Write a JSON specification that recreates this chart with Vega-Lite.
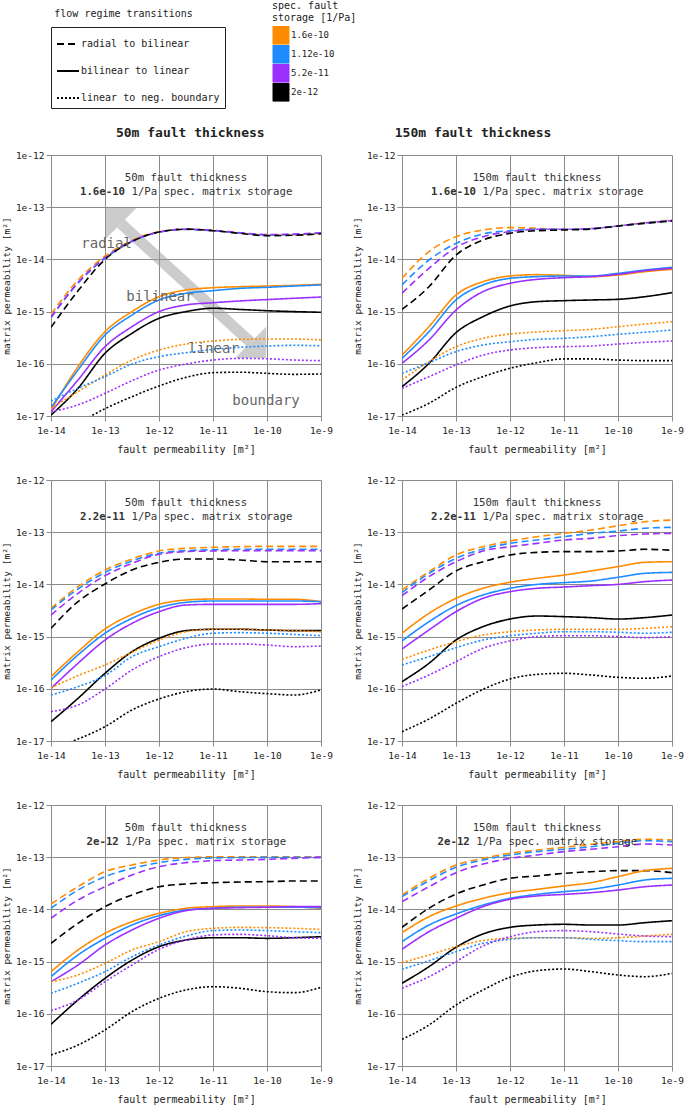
{
"$schema": "https://vega.github.io/schema/vega-lite/v6.json",
"padding": {"top": 1, "left": 1, "right": 5, "bottom": 3},
"config": {
  "font": "DejaVu Sans Mono",
  "view": {"stroke": null},
  "axis": {"gridColor": "#8a8a8a", "domainColor": "#8a8a8a", "tickColor": "#8a8a8a", "labelFont": "DejaVu Sans Mono", "titleFont": "DejaVu Sans Mono", "labelFontSize": 9.5, "titleFontSize": 10, "titleFontWeight": "normal", "labelColor": "#222", "titleColor": "#222", "labelFlush": false, "labelOverlap": false},
  "legend": {"labelFont": "DejaVu Sans Mono", "titleFont": "DejaVu Sans Mono"},
  "text": {"font": "DejaVu Sans Mono"}
},
"data": {"values": [
{"p":"A","a":"50m fault thickness","b":"1.6e-10","n":"1/Pa spec. matrix storage"},
{"p":"B","a":"150m fault thickness","b":"1.6e-10","n":"1/Pa spec. matrix storage"},
{"p":"C","a":"50m fault thickness","b":"2.2e-11","n":"1/Pa spec. matrix storage"},
{"p":"D","a":"150m fault thickness","b":"2.2e-11","n":"1/Pa spec. matrix storage"},
{"p":"E","a":"50m fault thickness","b":"2e-12","n":"1/Pa spec. matrix storage"},
{"p":"F","a":"150m fault thickness","b":"2e-12","n":"1/Pa spec. matrix storage"},
{"p":"A","w":"radial","x":3.64e-14,"y":1.97e-14},
{"p":"A","w":"bilinear","x":2.48e-13,"y":1.91e-15},
{"p":"A","w":"linear","x":3.49e-12,"y":1.92e-16},
{"p":"A","w":"boundary","x":2.28e-11,"y":1.94e-17},

{"p":"A","s":"O","t":"D","x":1e-14,"y":8.9e-16},{"p":"A","s":"O","t":"D","x":3.16e-14,"y":4e-15},{"p":"A","s":"O","t":"D","x":1e-13,"y":1.15e-14},{"p":"A","s":"O","t":"D","x":3.16e-13,"y":2.3e-14},{"p":"A","s":"O","t":"D","x":1e-12,"y":3.4e-14},{"p":"A","s":"O","t":"D","x":3.16e-12,"y":3.75e-14},{"p":"A","s":"O","t":"D","x":1e-11,"y":3.55e-14},{"p":"A","s":"O","t":"D","x":3.16e-11,"y":3.2e-14},{"p":"A","s":"O","t":"D","x":1e-10,"y":2.95e-14},{"p":"A","s":"O","t":"D","x":3.16e-10,"y":2.95e-14},{"p":"A","s":"O","t":"D","x":1e-9,"y":3.15e-14},
{"p":"A","s":"B","t":"D","x":1e-14,"y":7.6e-16},{"p":"A","s":"B","t":"D","x":3.16e-14,"y":3.5e-15},{"p":"A","s":"B","t":"D","x":1e-13,"y":1.05e-14},{"p":"A","s":"B","t":"D","x":3.16e-13,"y":2.2e-14},{"p":"A","s":"B","t":"D","x":1e-12,"y":3.3e-14},{"p":"A","s":"B","t":"D","x":3.16e-12,"y":3.75e-14},{"p":"A","s":"B","t":"D","x":1e-11,"y":3.55e-14},{"p":"A","s":"B","t":"D","x":3.16e-11,"y":3.2e-14},{"p":"A","s":"B","t":"D","x":1e-10,"y":2.95e-14},{"p":"A","s":"B","t":"D","x":3.16e-10,"y":3e-14},{"p":"A","s":"B","t":"D","x":1e-9,"y":3.2e-14},
{"p":"A","s":"P","t":"D","x":1e-14,"y":7.8e-16},{"p":"A","s":"P","t":"D","x":3.16e-14,"y":3.6e-15},{"p":"A","s":"P","t":"D","x":1e-13,"y":1.08e-14},{"p":"A","s":"P","t":"D","x":3.16e-13,"y":2.25e-14},{"p":"A","s":"P","t":"D","x":1e-12,"y":3.35e-14},{"p":"A","s":"P","t":"D","x":3.16e-12,"y":3.8e-14},{"p":"A","s":"P","t":"D","x":1e-11,"y":3.6e-14},{"p":"A","s":"P","t":"D","x":3.16e-11,"y":3.25e-14},{"p":"A","s":"P","t":"D","x":1e-10,"y":3e-14},{"p":"A","s":"P","t":"D","x":3.16e-10,"y":3.05e-14},{"p":"A","s":"P","t":"D","x":1e-9,"y":3.25e-14},
{"p":"A","s":"K","t":"D","x":1e-14,"y":5e-16},{"p":"A","s":"K","t":"D","x":3.16e-14,"y":2.5e-15},{"p":"A","s":"K","t":"D","x":1e-13,"y":1e-14},{"p":"A","s":"K","t":"D","x":3.16e-13,"y":2.2e-14},{"p":"A","s":"K","t":"D","x":1e-12,"y":3.35e-14},{"p":"A","s":"K","t":"D","x":3.16e-12,"y":3.8e-14},{"p":"A","s":"K","t":"D","x":1e-11,"y":3.55e-14},{"p":"A","s":"K","t":"D","x":3.16e-11,"y":3.15e-14},{"p":"A","s":"K","t":"D","x":1e-10,"y":2.85e-14},{"p":"A","s":"K","t":"D","x":3.16e-10,"y":2.9e-14},{"p":"A","s":"K","t":"D","x":1e-9,"y":3.1e-14},
{"p":"A","s":"O","t":"S","x":1e-14,"y":1.3e-17},{"p":"A","s":"O","t":"S","x":3.16e-14,"y":8.8e-17},{"p":"A","s":"O","t":"S","x":1e-13,"y":4.13e-16},{"p":"A","s":"O","t":"S","x":3.16e-13,"y":1e-15},{"p":"A","s":"O","t":"S","x":1e-12,"y":1.93e-15},{"p":"A","s":"O","t":"S","x":3.16e-12,"y":2.59e-15},{"p":"A","s":"O","t":"S","x":1e-11,"y":2.87e-15},{"p":"A","s":"O","t":"S","x":3.16e-11,"y":3e-15},{"p":"A","s":"O","t":"S","x":1e-10,"y":3.09e-15},{"p":"A","s":"O","t":"S","x":3.16e-10,"y":3.18e-15},{"p":"A","s":"O","t":"S","x":1e-9,"y":3.33e-15},
{"p":"A","s":"B","t":"S","x":1e-14,"y":1.45e-17},{"p":"A","s":"B","t":"S","x":3.16e-14,"y":7.6e-17},{"p":"A","s":"B","t":"S","x":1e-13,"y":3.56e-16},{"p":"A","s":"B","t":"S","x":3.16e-13,"y":8.6e-16},{"p":"A","s":"B","t":"S","x":1e-12,"y":1.67e-15},{"p":"A","s":"B","t":"S","x":3.16e-12,"y":2.24e-15},{"p":"A","s":"B","t":"S","x":1e-11,"y":2.52e-15},{"p":"A","s":"B","t":"S","x":3.16e-11,"y":2.79e-15},{"p":"A","s":"B","t":"S","x":1e-10,"y":2.92e-15},{"p":"A","s":"B","t":"S","x":3.16e-10,"y":3.09e-15},{"p":"A","s":"B","t":"S","x":1e-9,"y":3.24e-15},
{"p":"A","s":"P","t":"S","x":1e-14,"y":1.21e-17},{"p":"A","s":"P","t":"S","x":3.16e-14,"y":4.9e-17},{"p":"A","s":"P","t":"S","x":1e-13,"y":2.13e-16},{"p":"A","s":"P","t":"S","x":3.16e-13,"y":5.14e-16},{"p":"A","s":"P","t":"S","x":1e-12,"y":1e-15},{"p":"A","s":"P","t":"S","x":3.16e-12,"y":1.34e-15},{"p":"A","s":"P","t":"S","x":1e-11,"y":1.48e-15},{"p":"A","s":"P","t":"S","x":3.16e-11,"y":1.6e-15},{"p":"A","s":"P","t":"S","x":1e-10,"y":1.7e-15},{"p":"A","s":"P","t":"S","x":3.16e-10,"y":1.8e-15},{"p":"A","s":"P","t":"S","x":1e-9,"y":1.9e-15},
{"p":"A","s":"K","t":"S","x":1e-14,"y":1.04e-17},{"p":"A","s":"K","t":"S","x":3.16e-14,"y":3.39e-17},{"p":"A","s":"K","t":"S","x":1e-13,"y":1.59e-16},{"p":"A","s":"K","t":"S","x":3.16e-13,"y":3.84e-16},{"p":"A","s":"K","t":"S","x":1e-12,"y":7.43e-16},{"p":"A","s":"K","t":"S","x":3.16e-12,"y":1e-15},{"p":"A","s":"K","t":"S","x":1e-11,"y":1.16e-15},{"p":"A","s":"K","t":"S","x":3.16e-11,"y":1.1e-15},{"p":"A","s":"K","t":"S","x":1e-10,"y":1.04e-15},{"p":"A","s":"K","t":"S","x":3.16e-10,"y":1e-15},{"p":"A","s":"K","t":"S","x":1e-9,"y":9.7e-16},
{"p":"A","s":"O","t":"T","x":1e-14,"y":1.4e-17},{"p":"A","s":"O","t":"T","x":3.16e-14,"y":2.92e-17},{"p":"A","s":"O","t":"T","x":1e-13,"y":6.1e-17},{"p":"A","s":"O","t":"T","x":3.16e-13,"y":1.18e-16},{"p":"A","s":"O","t":"T","x":1e-12,"y":1.84e-16},{"p":"A","s":"O","t":"T","x":3.16e-12,"y":2.39e-16},{"p":"A","s":"O","t":"T","x":1e-11,"y":2.73e-16},{"p":"A","s":"O","t":"T","x":3.16e-11,"y":2.94e-16},{"p":"A","s":"O","t":"T","x":1e-10,"y":2.98e-16},{"p":"A","s":"O","t":"T","x":3.16e-10,"y":2.98e-16},{"p":"A","s":"O","t":"T","x":1e-9,"y":2.86e-16},
{"p":"A","s":"B","t":"T","x":1e-14,"y":1.94e-17},{"p":"A","s":"B","t":"T","x":3.16e-14,"y":3.39e-17},{"p":"A","s":"B","t":"T","x":1e-13,"y":5.67e-17},{"p":"A","s":"B","t":"T","x":3.16e-13,"y":9.9e-17},{"p":"A","s":"B","t":"T","x":1e-12,"y":1.37e-16},{"p":"A","s":"B","t":"T","x":3.16e-12,"y":1.63e-16},{"p":"A","s":"B","t":"T","x":1e-11,"y":1.89e-16},{"p":"A","s":"B","t":"T","x":3.16e-11,"y":2.07e-16},{"p":"A","s":"B","t":"T","x":1e-10,"y":2.19e-16},{"p":"A","s":"B","t":"T","x":3.16e-10,"y":2.26e-16},{"p":"A","s":"B","t":"T","x":1e-9,"y":2.22e-16},
{"p":"A","s":"P","t":"T","x":1e-14,"y":1.21e-17},{"p":"A","s":"P","t":"T","x":3.16e-14,"y":1.63e-17},{"p":"A","s":"P","t":"T","x":1e-13,"y":2.72e-17},{"p":"A","s":"P","t":"T","x":3.16e-13,"y":4.75e-17},{"p":"A","s":"P","t":"T","x":1e-12,"y":7.6e-17},{"p":"A","s":"P","t":"T","x":3.16e-12,"y":9.9e-17},{"p":"A","s":"P","t":"T","x":1e-11,"y":1.18e-16},{"p":"A","s":"P","t":"T","x":3.16e-11,"y":1.27e-16},{"p":"A","s":"P","t":"T","x":1e-10,"y":1.25e-16},{"p":"A","s":"P","t":"T","x":3.16e-10,"y":1.18e-16},{"p":"A","s":"P","t":"T","x":1e-9,"y":1.15e-16},
{"p":"A","s":"K","t":"T","x":1e-14,"y":3.47e-18},{"p":"A","s":"K","t":"T","x":3.16e-14,"y":7.2e-18},{"p":"A","s":"K","t":"T","x":1e-13,"y":1.38e-17},{"p":"A","s":"K","t":"T","x":3.16e-13,"y":2.34e-17},{"p":"A","s":"K","t":"T","x":1e-12,"y":3.76e-17},{"p":"A","s":"K","t":"T","x":3.16e-12,"y":5.5e-17},{"p":"A","s":"K","t":"T","x":1e-11,"y":6.76e-17},{"p":"A","s":"K","t":"T","x":3.16e-11,"y":6.9e-17},{"p":"A","s":"K","t":"T","x":1e-10,"y":6.56e-17},{"p":"A","s":"K","t":"T","x":3.16e-10,"y":6.28e-17},{"p":"A","s":"K","t":"T","x":1e-9,"y":6.4e-17},

{"p":"B","s":"O","t":"D","x":1e-14,"y":4.34e-15},{"p":"B","s":"O","t":"D","x":3.16e-14,"y":1.41e-14},{"p":"B","s":"O","t":"D","x":1e-13,"y":2.72e-14},{"p":"B","s":"O","t":"D","x":3.16e-13,"y":3.66e-14},{"p":"B","s":"O","t":"D","x":1e-12,"y":4.06e-14},{"p":"B","s":"O","t":"D","x":3.16e-12,"y":3.94e-14},{"p":"B","s":"O","t":"D","x":1e-11,"y":3.77e-14},{"p":"B","s":"O","t":"D","x":3.16e-11,"y":3.88e-14},{"p":"B","s":"O","t":"D","x":1e-10,"y":4.37e-14},{"p":"B","s":"O","t":"D","x":3.16e-10,"y":5.06e-14},{"p":"B","s":"O","t":"D","x":1e-9,"y":5.69e-14},
{"p":"B","s":"B","t":"D","x":1e-14,"y":3.24e-15},{"p":"B","s":"B","t":"D","x":3.16e-14,"y":9.74e-15},{"p":"B","s":"B","t":"D","x":1e-13,"y":2.03e-14},{"p":"B","s":"B","t":"D","x":3.16e-13,"y":3.07e-14},{"p":"B","s":"B","t":"D","x":1e-12,"y":3.55e-14},{"p":"B","s":"B","t":"D","x":3.16e-12,"y":3.77e-14},{"p":"B","s":"B","t":"D","x":1e-11,"y":3.77e-14},{"p":"B","s":"B","t":"D","x":3.16e-11,"y":3.88e-14},{"p":"B","s":"B","t":"D","x":1e-10,"y":4.37e-14},{"p":"B","s":"B","t":"D","x":3.16e-10,"y":4.98e-14},{"p":"B","s":"B","t":"D","x":1e-9,"y":5.52e-14},
{"p":"B","s":"P","t":"D","x":1e-14,"y":2.24e-15},{"p":"B","s":"P","t":"D","x":3.16e-14,"y":6.75e-15},{"p":"B","s":"P","t":"D","x":1e-13,"y":1.7e-14},{"p":"B","s":"P","t":"D","x":3.16e-13,"y":2.72e-14},{"p":"B","s":"P","t":"D","x":1e-12,"y":3.4e-14},{"p":"B","s":"P","t":"D","x":3.16e-12,"y":3.77e-14},{"p":"B","s":"P","t":"D","x":1e-11,"y":3.77e-14},{"p":"B","s":"P","t":"D","x":3.16e-11,"y":3.88e-14},{"p":"B","s":"P","t":"D","x":1e-10,"y":4.37e-14},{"p":"B","s":"P","t":"D","x":3.16e-10,"y":4.98e-14},{"p":"B","s":"P","t":"D","x":1e-9,"y":5.52e-14},
{"p":"B","s":"K","t":"D","x":1e-14,"y":1.1e-15},{"p":"B","s":"K","t":"D","x":3.16e-14,"y":3e-15},{"p":"B","s":"K","t":"D","x":1e-13,"y":1.21e-14},{"p":"B","s":"K","t":"D","x":3.16e-13,"y":2.35e-14},{"p":"B","s":"K","t":"D","x":1e-12,"y":3.16e-14},{"p":"B","s":"K","t":"D","x":3.16e-12,"y":3.55e-14},{"p":"B","s":"K","t":"D","x":1e-11,"y":3.66e-14},{"p":"B","s":"K","t":"D","x":3.16e-11,"y":3.82e-14},{"p":"B","s":"K","t":"D","x":1e-10,"y":4.37e-14},{"p":"B","s":"K","t":"D","x":3.16e-10,"y":4.91e-14},{"p":"B","s":"K","t":"D","x":1e-9,"y":5.44e-14},
{"p":"B","s":"O","t":"S","x":1e-14,"y":1.47e-16},{"p":"B","s":"O","t":"S","x":3.16e-14,"y":5.14e-16},{"p":"B","s":"O","t":"S","x":1e-13,"y":2.08e-15},{"p":"B","s":"O","t":"S","x":3.16e-13,"y":3.74e-15},{"p":"B","s":"O","t":"S","x":1e-12,"y":4.81e-15},{"p":"B","s":"O","t":"S","x":3.16e-12,"y":5.1e-15},{"p":"B","s":"O","t":"S","x":1e-11,"y":4.95e-15},{"p":"B","s":"O","t":"S","x":3.16e-11,"y":4.67e-15},{"p":"B","s":"O","t":"S","x":1e-10,"y":5.02e-15},{"p":"B","s":"O","t":"S","x":3.16e-10,"y":5.82e-15},{"p":"B","s":"O","t":"S","x":1e-9,"y":6.45e-15},
{"p":"B","s":"B","t":"S","x":1e-14,"y":1.27e-16},{"p":"B","s":"B","t":"S","x":3.16e-14,"y":4.13e-16},{"p":"B","s":"B","t":"S","x":1e-13,"y":1.67e-15},{"p":"B","s":"B","t":"S","x":3.16e-13,"y":3.24e-15},{"p":"B","s":"B","t":"S","x":1e-12,"y":4.34e-15},{"p":"B","s":"B","t":"S","x":3.16e-12,"y":4.67e-15},{"p":"B","s":"B","t":"S","x":1e-11,"y":4.81e-15},{"p":"B","s":"B","t":"S","x":3.16e-11,"y":4.81e-15},{"p":"B","s":"B","t":"S","x":1e-10,"y":5.41e-15},{"p":"B","s":"B","t":"S","x":3.16e-10,"y":6.27e-15},{"p":"B","s":"B","t":"S","x":1e-9,"y":7.05e-15},
{"p":"B","s":"P","t":"S","x":1e-14,"y":1.02e-16},{"p":"B","s":"P","t":"S","x":3.16e-14,"y":2.86e-16},{"p":"B","s":"P","t":"S","x":1e-13,"y":1.07e-15},{"p":"B","s":"P","t":"S","x":3.16e-13,"y":2.41e-15},{"p":"B","s":"P","t":"S","x":1e-12,"y":3.48e-15},{"p":"B","s":"P","t":"S","x":3.16e-12,"y":4.15e-15},{"p":"B","s":"P","t":"S","x":1e-11,"y":4.47e-15},{"p":"B","s":"P","t":"S","x":3.16e-11,"y":4.67e-15},{"p":"B","s":"P","t":"S","x":1e-10,"y":5.18e-15},{"p":"B","s":"P","t":"S","x":3.16e-10,"y":6.08e-15},{"p":"B","s":"P","t":"S","x":1e-9,"y":6.75e-15},
{"p":"B","s":"K","t":"S","x":1e-14,"y":3.65e-17},{"p":"B","s":"K","t":"S","x":3.16e-14,"y":1.02e-16},{"p":"B","s":"K","t":"S","x":1e-13,"y":3.95e-16},{"p":"B","s":"K","t":"S","x":3.16e-13,"y":8e-16},{"p":"B","s":"K","t":"S","x":1e-12,"y":1.28e-15},{"p":"B","s":"K","t":"S","x":3.16e-12,"y":1.55e-15},{"p":"B","s":"K","t":"S","x":1e-11,"y":1.62e-15},{"p":"B","s":"K","t":"S","x":3.16e-11,"y":1.67e-15},{"p":"B","s":"K","t":"S","x":1e-10,"y":1.72e-15},{"p":"B","s":"K","t":"S","x":3.16e-10,"y":1.93e-15},{"p":"B","s":"K","t":"S","x":1e-9,"y":2.31e-15},
{"p":"B","s":"O","t":"T","x":1e-14,"y":4.9e-17},{"p":"B","s":"O","t":"T","x":3.16e-14,"y":1.1e-16},{"p":"B","s":"O","t":"T","x":1e-13,"y":2.13e-16},{"p":"B","s":"O","t":"T","x":3.16e-13,"y":3.08e-16},{"p":"B","s":"O","t":"T","x":1e-12,"y":3.72e-16},{"p":"B","s":"O","t":"T","x":3.16e-12,"y":4.07e-16},{"p":"B","s":"O","t":"T","x":1e-11,"y":4.32e-16},{"p":"B","s":"O","t":"T","x":3.16e-11,"y":4.57e-16},{"p":"B","s":"O","t":"T","x":1e-10,"y":5.14e-16},{"p":"B","s":"O","t":"T","x":3.16e-10,"y":5.78e-16},{"p":"B","s":"O","t":"T","x":1e-9,"y":6.41e-16},
{"p":"B","s":"B","t":"T","x":1e-14,"y":6.56e-17},{"p":"B","s":"B","t":"T","x":3.16e-14,"y":1.05e-16},{"p":"B","s":"B","t":"T","x":1e-13,"y":1.71e-16},{"p":"B","s":"B","t":"T","x":3.16e-13,"y":2.29e-16},{"p":"B","s":"B","t":"T","x":1e-12,"y":2.65e-16},{"p":"B","s":"B","t":"T","x":3.16e-12,"y":2.94e-16},{"p":"B","s":"B","t":"T","x":1e-11,"y":3.08e-16},{"p":"B","s":"B","t":"T","x":3.16e-11,"y":3.31e-16},{"p":"B","s":"B","t":"T","x":1e-10,"y":3.67e-16},{"p":"B","s":"B","t":"T","x":3.16e-10,"y":4.01e-16},{"p":"B","s":"B","t":"T","x":1e-9,"y":4.45e-16},
{"p":"B","s":"P","t":"T","x":1e-14,"y":3.39e-17},{"p":"B","s":"P","t":"T","x":3.16e-14,"y":5.67e-17},{"p":"B","s":"P","t":"T","x":1e-13,"y":9.5e-17},{"p":"B","s":"P","t":"T","x":3.16e-13,"y":1.47e-16},{"p":"B","s":"P","t":"T","x":1e-12,"y":1.84e-16},{"p":"B","s":"P","t":"T","x":3.16e-12,"y":2.04e-16},{"p":"B","s":"P","t":"T","x":1e-11,"y":2.13e-16},{"p":"B","s":"P","t":"T","x":3.16e-11,"y":2.19e-16},{"p":"B","s":"P","t":"T","x":1e-10,"y":2.39e-16},{"p":"B","s":"P","t":"T","x":3.16e-10,"y":2.58e-16},{"p":"B","s":"P","t":"T","x":1e-9,"y":2.73e-16},
{"p":"B","s":"K","t":"T","x":1e-14,"y":1.04e-17},{"p":"B","s":"K","t":"T","x":3.16e-14,"y":1.75e-17},{"p":"B","s":"K","t":"T","x":1e-13,"y":3.54e-17},{"p":"B","s":"K","t":"T","x":3.16e-13,"y":5.67e-17},{"p":"B","s":"K","t":"T","x":1e-12,"y":8.2e-17},{"p":"B","s":"K","t":"T","x":3.16e-12,"y":1.05e-16},{"p":"B","s":"K","t":"T","x":1e-11,"y":1.24e-16},{"p":"B","s":"K","t":"T","x":3.16e-11,"y":1.24e-16},{"p":"B","s":"K","t":"T","x":1e-10,"y":1.18e-16},{"p":"B","s":"K","t":"T","x":3.16e-10,"y":1.15e-16},{"p":"B","s":"K","t":"T","x":1e-9,"y":1.15e-16},

{"p":"C","s":"O","t":"D","x":1e-14,"y":3.48e-15},{"p":"C","s":"O","t":"D","x":3.16e-14,"y":9.05e-15},{"p":"C","s":"O","t":"D","x":1e-13,"y":1.89e-14},{"p":"C","s":"O","t":"D","x":3.16e-13,"y":3.07e-14},{"p":"C","s":"O","t":"D","x":1e-12,"y":4.37e-14},{"p":"C","s":"O","t":"D","x":3.16e-12,"y":4.91e-14},{"p":"C","s":"O","t":"D","x":1e-11,"y":5.13e-14},{"p":"C","s":"O","t":"D","x":3.16e-11,"y":5.28e-14},{"p":"C","s":"O","t":"D","x":1e-10,"y":5.36e-14},{"p":"C","s":"O","t":"D","x":3.16e-10,"y":5.36e-14},{"p":"C","s":"O","t":"D","x":1e-9,"y":5.36e-14},
{"p":"C","s":"B","t":"D","x":1e-14,"y":3.24e-15},{"p":"C","s":"B","t":"D","x":3.16e-14,"y":8.17e-15},{"p":"C","s":"B","t":"D","x":1e-13,"y":1.7e-14},{"p":"C","s":"B","t":"D","x":3.16e-13,"y":2.81e-14},{"p":"C","s":"B","t":"D","x":1e-12,"y":3.94e-14},{"p":"C","s":"B","t":"D","x":3.16e-12,"y":4.43e-14},{"p":"C","s":"B","t":"D","x":1e-11,"y":4.62e-14},{"p":"C","s":"B","t":"D","x":3.16e-11,"y":4.7e-14},{"p":"C","s":"B","t":"D","x":1e-10,"y":4.7e-14},{"p":"C","s":"B","t":"D","x":3.16e-10,"y":4.7e-14},{"p":"C","s":"B","t":"D","x":1e-9,"y":4.7e-14},
{"p":"C","s":"P","t":"D","x":1e-14,"y":2.59e-15},{"p":"C","s":"P","t":"D","x":3.16e-14,"y":6.75e-15},{"p":"C","s":"P","t":"D","x":1e-13,"y":1.47e-14},{"p":"C","s":"P","t":"D","x":3.16e-13,"y":2.53e-14},{"p":"C","s":"P","t":"D","x":1e-12,"y":3.77e-14},{"p":"C","s":"P","t":"D","x":3.16e-12,"y":4.24e-14},{"p":"C","s":"P","t":"D","x":1e-11,"y":4.37e-14},{"p":"C","s":"P","t":"D","x":3.16e-11,"y":4.43e-14},{"p":"C","s":"P","t":"D","x":1e-10,"y":4.43e-14},{"p":"C","s":"P","t":"D","x":3.16e-10,"y":4.43e-14},{"p":"C","s":"P","t":"D","x":1e-9,"y":4.43e-14},
{"p":"C","s":"K","t":"D","x":1e-14,"y":1.44e-15},{"p":"C","s":"K","t":"D","x":3.16e-14,"y":4.67e-15},{"p":"C","s":"K","t":"D","x":1e-13,"y":1.02e-14},{"p":"C","s":"K","t":"D","x":3.16e-13,"y":1.89e-14},{"p":"C","s":"K","t":"D","x":1e-12,"y":2.65e-14},{"p":"C","s":"K","t":"D","x":3.16e-12,"y":3.07e-14},{"p":"C","s":"K","t":"D","x":1e-11,"y":3.07e-14},{"p":"C","s":"K","t":"D","x":3.16e-11,"y":2.93e-14},{"p":"C","s":"K","t":"D","x":1e-10,"y":2.72e-14},{"p":"C","s":"K","t":"D","x":3.16e-10,"y":2.72e-14},{"p":"C","s":"K","t":"D","x":1e-9,"y":2.72e-14},
{"p":"C","s":"O","t":"S","x":1e-14,"y":1.71e-16},{"p":"C","s":"O","t":"S","x":3.16e-14,"y":5.14e-16},{"p":"C","s":"O","t":"S","x":1e-13,"y":1.4e-15},{"p":"C","s":"O","t":"S","x":3.16e-13,"y":2.67e-15},{"p":"C","s":"O","t":"S","x":1e-12,"y":4.15e-15},{"p":"C","s":"O","t":"S","x":3.16e-12,"y":5.02e-15},{"p":"C","s":"O","t":"S","x":1e-11,"y":5.25e-15},{"p":"C","s":"O","t":"S","x":3.16e-11,"y":5.25e-15},{"p":"C","s":"O","t":"S","x":1e-10,"y":5.18e-15},{"p":"C","s":"O","t":"S","x":3.16e-10,"y":5.18e-15},{"p":"C","s":"O","t":"S","x":1e-9,"y":4.67e-15},
{"p":"C","s":"B","t":"S","x":1e-14,"y":1.47e-16},{"p":"C","s":"B","t":"S","x":3.16e-14,"y":4.45e-16},{"p":"C","s":"B","t":"S","x":1e-13,"y":1.16e-15},{"p":"C","s":"B","t":"S","x":3.16e-13,"y":2.24e-15},{"p":"C","s":"B","t":"S","x":1e-12,"y":3.58e-15},{"p":"C","s":"B","t":"S","x":3.16e-12,"y":4.53e-15},{"p":"C","s":"B","t":"S","x":1e-11,"y":4.81e-15},{"p":"C","s":"B","t":"S","x":3.16e-11,"y":4.81e-15},{"p":"C","s":"B","t":"S","x":1e-10,"y":4.81e-15},{"p":"C","s":"B","t":"S","x":3.16e-10,"y":4.81e-15},{"p":"C","s":"B","t":"S","x":1e-9,"y":4.67e-15},
{"p":"C","s":"P","t":"S","x":1e-14,"y":1.02e-16},{"p":"C","s":"P","t":"S","x":3.16e-14,"y":3.08e-16},{"p":"C","s":"P","t":"S","x":1e-13,"y":8.6e-16},{"p":"C","s":"P","t":"S","x":3.16e-13,"y":1.79e-15},{"p":"C","s":"P","t":"S","x":1e-12,"y":3e-15},{"p":"C","s":"P","t":"S","x":3.16e-12,"y":4.03e-15},{"p":"C","s":"P","t":"S","x":1e-11,"y":4.15e-15},{"p":"C","s":"P","t":"S","x":3.16e-11,"y":4.15e-15},{"p":"C","s":"P","t":"S","x":1e-10,"y":4.15e-15},{"p":"C","s":"P","t":"S","x":3.16e-10,"y":4.15e-15},{"p":"C","s":"P","t":"S","x":1e-9,"y":4.28e-15},
{"p":"C","s":"K","t":"S","x":1e-14,"y":2.34e-17},{"p":"C","s":"K","t":"S","x":3.16e-14,"y":6.56e-17},{"p":"C","s":"K","t":"S","x":1e-13,"y":1.98e-16},{"p":"C","s":"K","t":"S","x":3.16e-13,"y":5.14e-16},{"p":"C","s":"K","t":"S","x":1e-12,"y":9.27e-16},{"p":"C","s":"K","t":"S","x":3.16e-12,"y":1.3e-15},{"p":"C","s":"K","t":"S","x":1e-11,"y":1.38e-15},{"p":"C","s":"K","t":"S","x":3.16e-11,"y":1.38e-15},{"p":"C","s":"K","t":"S","x":1e-10,"y":1.34e-15},{"p":"C","s":"K","t":"S","x":3.16e-10,"y":1.3e-15},{"p":"C","s":"K","t":"S","x":1e-9,"y":1.3e-15},
{"p":"C","s":"O","t":"T","x":1e-14,"y":1.05e-16},{"p":"C","s":"O","t":"T","x":3.16e-14,"y":1.79e-16},{"p":"C","s":"O","t":"T","x":1e-13,"y":2.86e-16},{"p":"C","s":"O","t":"T","x":3.16e-13,"y":5e-16},{"p":"C","s":"O","t":"T","x":1e-12,"y":8.6e-16},{"p":"C","s":"O","t":"T","x":3.16e-12,"y":1.24e-15},{"p":"C","s":"O","t":"T","x":1e-11,"y":1.38e-15},{"p":"C","s":"O","t":"T","x":3.16e-11,"y":1.38e-15},{"p":"C","s":"O","t":"T","x":1e-10,"y":1.34e-15},{"p":"C","s":"O","t":"T","x":3.16e-10,"y":1.3e-15},{"p":"C","s":"O","t":"T","x":1e-9,"y":1.24e-15},
{"p":"C","s":"B","t":"T","x":1e-14,"y":7.6e-17},{"p":"C","s":"B","t":"T","x":3.16e-14,"y":1.1e-16},{"p":"C","s":"B","t":"T","x":1e-13,"y":1.79e-16},{"p":"C","s":"B","t":"T","x":3.16e-13,"y":4.13e-16},{"p":"C","s":"B","t":"T","x":1e-12,"y":6.41e-16},{"p":"C","s":"B","t":"T","x":3.16e-12,"y":9.27e-16},{"p":"C","s":"B","t":"T","x":1e-11,"y":1.16e-15},{"p":"C","s":"B","t":"T","x":3.16e-11,"y":1.19e-15},{"p":"C","s":"B","t":"T","x":1e-10,"y":1.16e-15},{"p":"C","s":"B","t":"T","x":3.16e-10,"y":1.1e-15},{"p":"C","s":"B","t":"T","x":1e-9,"y":1.04e-15},
{"p":"C","s":"P","t":"T","x":1e-14,"y":3.65e-17},{"p":"C","s":"P","t":"T","x":3.16e-14,"y":4.9e-17},{"p":"C","s":"P","t":"T","x":1e-13,"y":9.9e-17},{"p":"C","s":"P","t":"T","x":3.16e-13,"y":2.29e-16},{"p":"C","s":"P","t":"T","x":1e-12,"y":4.13e-16},{"p":"C","s":"P","t":"T","x":3.16e-12,"y":6.14e-16},{"p":"C","s":"P","t":"T","x":1e-11,"y":7.21e-16},{"p":"C","s":"P","t":"T","x":3.16e-11,"y":7.21e-16},{"p":"C","s":"P","t":"T","x":1e-10,"y":6.9e-16},{"p":"C","s":"P","t":"T","x":3.16e-10,"y":6.41e-16},{"p":"C","s":"P","t":"T","x":1e-9,"y":6.6e-16},
{"p":"C","s":"K","t":"T","x":1e-14,"y":7.2e-18},{"p":"C","s":"K","t":"T","x":3.16e-14,"y":1.09e-17},{"p":"C","s":"K","t":"T","x":1e-13,"y":1.88e-17},{"p":"C","s":"K","t":"T","x":3.16e-13,"y":3.93e-17},{"p":"C","s":"K","t":"T","x":1e-12,"y":6.38e-17},{"p":"C","s":"K","t":"T","x":3.16e-12,"y":8.8e-17},{"p":"C","s":"K","t":"T","x":1e-11,"y":9.9e-17},{"p":"C","s":"K","t":"T","x":3.16e-11,"y":8.8e-17},{"p":"C","s":"K","t":"T","x":1e-10,"y":8.07e-17},{"p":"C","s":"K","t":"T","x":3.16e-10,"y":7.6e-17},{"p":"C","s":"K","t":"T","x":1e-9,"y":9.5e-17},

{"p":"D","s":"O","t":"D","x":1e-14,"y":7.81e-15},{"p":"D","s":"O","t":"D","x":3.16e-14,"y":1.75e-14},{"p":"D","s":"O","t":"D","x":1e-13,"y":3.66e-14},{"p":"D","s":"O","t":"D","x":3.16e-13,"y":5.28e-14},{"p":"D","s":"O","t":"D","x":1e-12,"y":6.78e-14},{"p":"D","s":"O","t":"D","x":3.16e-12,"y":8.2e-14},{"p":"D","s":"O","t":"D","x":1e-11,"y":9.5e-14},{"p":"D","s":"O","t":"D","x":3.16e-11,"y":1.1e-13},{"p":"D","s":"O","t":"D","x":1e-10,"y":1.33e-13},{"p":"D","s":"O","t":"D","x":3.16e-10,"y":1.59e-13},{"p":"D","s":"O","t":"D","x":1e-9,"y":1.71e-13},
{"p":"D","s":"B","t":"D","x":1e-14,"y":6.95e-15},{"p":"D","s":"B","t":"D","x":3.16e-14,"y":1.63e-14},{"p":"D","s":"B","t":"D","x":1e-13,"y":3.16e-14},{"p":"D","s":"B","t":"D","x":3.16e-13,"y":4.77e-14},{"p":"D","s":"B","t":"D","x":1e-12,"y":6.12e-14},{"p":"D","s":"B","t":"D","x":3.16e-12,"y":7.09e-14},{"p":"D","s":"B","t":"D","x":1e-11,"y":8.2e-14},{"p":"D","s":"B","t":"D","x":3.16e-11,"y":9.5e-14},{"p":"D","s":"B","t":"D","x":1e-10,"y":1.05e-13},{"p":"D","s":"B","t":"D","x":3.16e-10,"y":1.19e-13},{"p":"D","s":"B","t":"D","x":1e-9,"y":1.24e-13},
{"p":"D","s":"P","t":"D","x":1e-14,"y":6.08e-15},{"p":"D","s":"P","t":"D","x":3.16e-14,"y":1.41e-14},{"p":"D","s":"P","t":"D","x":1e-13,"y":2.72e-14},{"p":"D","s":"P","t":"D","x":3.16e-13,"y":4.37e-14},{"p":"D","s":"P","t":"D","x":1e-12,"y":5.28e-14},{"p":"D","s":"P","t":"D","x":3.16e-12,"y":6.12e-14},{"p":"D","s":"P","t":"D","x":1e-11,"y":7.09e-14},{"p":"D","s":"P","t":"D","x":3.16e-11,"y":7.63e-14},{"p":"D","s":"P","t":"D","x":1e-10,"y":8.59e-14},{"p":"D","s":"P","t":"D","x":3.16e-10,"y":9.24e-14},{"p":"D","s":"P","t":"D","x":1e-9,"y":9.5e-14},
{"p":"D","s":"K","t":"D","x":1e-14,"y":3.38e-15},{"p":"D","s":"K","t":"D","x":3.16e-14,"y":7.81e-15},{"p":"D","s":"K","t":"D","x":1e-13,"y":1.81e-14},{"p":"D","s":"K","t":"D","x":3.16e-13,"y":2.72e-14},{"p":"D","s":"K","t":"D","x":1e-12,"y":3.66e-14},{"p":"D","s":"K","t":"D","x":3.16e-12,"y":4.11e-14},{"p":"D","s":"K","t":"D","x":1e-11,"y":4.24e-14},{"p":"D","s":"K","t":"D","x":3.16e-11,"y":4.24e-14},{"p":"D","s":"K","t":"D","x":1e-10,"y":4.37e-14},{"p":"D","s":"K","t":"D","x":3.16e-10,"y":4.7e-14},{"p":"D","s":"K","t":"D","x":1e-9,"y":4.5e-14},
{"p":"D","s":"O","t":"S","x":1e-14,"y":1.16e-15},{"p":"D","s":"O","t":"S","x":3.16e-14,"y":2.79e-15},{"p":"D","s":"O","t":"S","x":1e-13,"y":5.41e-15},{"p":"D","s":"O","t":"S","x":3.16e-13,"y":8.41e-15},{"p":"D","s":"O","t":"S","x":1e-12,"y":1.1e-14},{"p":"D","s":"O","t":"S","x":3.16e-12,"y":1.31e-14},{"p":"D","s":"O","t":"S","x":1e-11,"y":1.51e-14},{"p":"D","s":"O","t":"S","x":3.16e-11,"y":1.81e-14},{"p":"D","s":"O","t":"S","x":1e-10,"y":2.19e-14},{"p":"D","s":"O","t":"S","x":3.16e-10,"y":2.65e-14},{"p":"D","s":"O","t":"S","x":1e-9,"y":2.72e-14},
{"p":"D","s":"B","t":"S","x":1e-14,"y":8.24e-16},{"p":"D","s":"B","t":"S","x":3.16e-14,"y":1.93e-15},{"p":"D","s":"B","t":"S","x":1e-13,"y":3.92e-15},{"p":"D","s":"B","t":"S","x":3.16e-13,"y":6.27e-15},{"p":"D","s":"B","t":"S","x":1e-12,"y":8.41e-15},{"p":"D","s":"B","t":"S","x":3.16e-12,"y":1e-14},{"p":"D","s":"B","t":"S","x":1e-11,"y":1.08e-14},{"p":"D","s":"B","t":"S","x":3.16e-11,"y":1.16e-14},{"p":"D","s":"B","t":"S","x":1e-10,"y":1.37e-14},{"p":"D","s":"B","t":"S","x":3.16e-10,"y":1.63e-14},{"p":"D","s":"B","t":"S","x":1e-9,"y":1.7e-14},
{"p":"D","s":"P","t":"S","x":1e-14,"y":5.78e-16},{"p":"D","s":"P","t":"S","x":3.16e-14,"y":1.34e-15},{"p":"D","s":"P","t":"S","x":1e-13,"y":3e-15},{"p":"D","s":"P","t":"S","x":3.16e-13,"y":5.41e-15},{"p":"D","s":"P","t":"S","x":1e-12,"y":7.26e-15},{"p":"D","s":"P","t":"S","x":3.16e-12,"y":8.41e-15},{"p":"D","s":"P","t":"S","x":1e-11,"y":8.91e-15},{"p":"D","s":"P","t":"S","x":3.16e-11,"y":9.46e-15},{"p":"D","s":"P","t":"S","x":1e-10,"y":1e-14},{"p":"D","s":"P","t":"S","x":3.16e-10,"y":1.13e-14},{"p":"D","s":"P","t":"S","x":1e-9,"y":1.21e-14},
{"p":"D","s":"K","t":"S","x":1e-14,"y":1.37e-16},{"p":"D","s":"K","t":"S","x":3.16e-14,"y":3.08e-16},{"p":"D","s":"K","t":"S","x":1e-13,"y":8.6e-16},{"p":"D","s":"K","t":"S","x":3.16e-13,"y":1.55e-15},{"p":"D","s":"K","t":"S","x":1e-12,"y":2.17e-15},{"p":"D","s":"K","t":"S","x":3.16e-12,"y":2.48e-15},{"p":"D","s":"K","t":"S","x":1e-11,"y":2.41e-15},{"p":"D","s":"K","t":"S","x":3.16e-11,"y":2.31e-15},{"p":"D","s":"K","t":"S","x":1e-10,"y":2.17e-15},{"p":"D","s":"K","t":"S","x":3.16e-10,"y":2.31e-15},{"p":"D","s":"K","t":"S","x":1e-9,"y":2.59e-15},
{"p":"D","s":"O","t":"T","x":1e-14,"y":3.67e-16},{"p":"D","s":"O","t":"T","x":3.16e-14,"y":5.54e-16},{"p":"D","s":"O","t":"T","x":1e-13,"y":8e-16},{"p":"D","s":"O","t":"T","x":3.16e-13,"y":1.07e-15},{"p":"D","s":"O","t":"T","x":1e-12,"y":1.24e-15},{"p":"D","s":"O","t":"T","x":3.16e-12,"y":1.34e-15},{"p":"D","s":"O","t":"T","x":1e-11,"y":1.38e-15},{"p":"D","s":"O","t":"T","x":3.16e-11,"y":1.38e-15},{"p":"D","s":"O","t":"T","x":1e-10,"y":1.38e-15},{"p":"D","s":"O","t":"T","x":3.16e-10,"y":1.44e-15},{"p":"D","s":"O","t":"T","x":1e-9,"y":1.55e-15},
{"p":"D","s":"B","t":"T","x":1e-14,"y":2.86e-16},{"p":"D","s":"B","t":"T","x":3.16e-14,"y":4.13e-16},{"p":"D","s":"B","t":"T","x":1e-13,"y":6.14e-16},{"p":"D","s":"B","t":"T","x":3.16e-13,"y":8.6e-16},{"p":"D","s":"B","t":"T","x":1e-12,"y":1.04e-15},{"p":"D","s":"B","t":"T","x":3.16e-12,"y":1.16e-15},{"p":"D","s":"B","t":"T","x":1e-11,"y":1.24e-15},{"p":"D","s":"B","t":"T","x":3.16e-11,"y":1.24e-15},{"p":"D","s":"B","t":"T","x":1e-10,"y":1.21e-15},{"p":"D","s":"B","t":"T","x":3.16e-10,"y":1.16e-15},{"p":"D","s":"B","t":"T","x":1e-9,"y":1.21e-15},
{"p":"D","s":"P","t":"T","x":1e-14,"y":1.1e-16},{"p":"D","s":"P","t":"T","x":3.16e-14,"y":1.84e-16},{"p":"D","s":"P","t":"T","x":1e-13,"y":3.31e-16},{"p":"D","s":"P","t":"T","x":3.16e-13,"y":5.96e-16},{"p":"D","s":"P","t":"T","x":1e-12,"y":8.24e-16},{"p":"D","s":"P","t":"T","x":3.16e-12,"y":1e-15},{"p":"D","s":"P","t":"T","x":1e-11,"y":1.04e-15},{"p":"D","s":"P","t":"T","x":3.16e-11,"y":1.04e-15},{"p":"D","s":"P","t":"T","x":1e-10,"y":1e-15},{"p":"D","s":"P","t":"T","x":3.16e-10,"y":9.55e-16},{"p":"D","s":"P","t":"T","x":1e-9,"y":1e-15},
{"p":"D","s":"K","t":"T","x":1e-14,"y":1.51e-17},{"p":"D","s":"K","t":"T","x":3.16e-14,"y":2.64e-17},{"p":"D","s":"K","t":"T","x":1e-13,"y":5.27e-17},{"p":"D","s":"K","t":"T","x":3.16e-13,"y":9.77e-17},{"p":"D","s":"K","t":"T","x":1e-12,"y":1.54e-16},{"p":"D","s":"K","t":"T","x":3.16e-12,"y":1.89e-16},{"p":"D","s":"K","t":"T","x":1e-11,"y":1.98e-16},{"p":"D","s":"K","t":"T","x":3.16e-11,"y":1.84e-16},{"p":"D","s":"K","t":"T","x":1e-10,"y":1.66e-16},{"p":"D","s":"K","t":"T","x":3.16e-10,"y":1.59e-16},{"p":"D","s":"K","t":"T","x":1e-9,"y":1.76e-16},

{"p":"E","s":"O","t":"D","x":1e-14,"y":1.27e-14},{"p":"E","s":"O","t":"D","x":3.16e-14,"y":2.72e-14},{"p":"E","s":"O","t":"D","x":1e-13,"y":5.28e-14},{"p":"E","s":"O","t":"D","x":3.16e-13,"y":7.09e-14},{"p":"E","s":"O","t":"D","x":1e-12,"y":8.83e-14},{"p":"E","s":"O","t":"D","x":3.16e-12,"y":9.8e-14},{"p":"E","s":"O","t":"D","x":1e-11,"y":1.02e-13},{"p":"E","s":"O","t":"D","x":3.16e-11,"y":1.02e-13},{"p":"E","s":"O","t":"D","x":1e-10,"y":1.02e-13},{"p":"E","s":"O","t":"D","x":3.16e-10,"y":1.02e-13},{"p":"E","s":"O","t":"D","x":1e-9,"y":1.02e-13},
{"p":"E","s":"B","t":"D","x":1e-14,"y":1.05e-14},{"p":"E","s":"B","t":"D","x":3.16e-14,"y":2.35e-14},{"p":"E","s":"B","t":"D","x":1e-13,"y":4.24e-14},{"p":"E","s":"B","t":"D","x":3.16e-13,"y":6.12e-14},{"p":"E","s":"B","t":"D","x":1e-12,"y":7.86e-14},{"p":"E","s":"B","t":"D","x":3.16e-12,"y":9.1e-14},{"p":"E","s":"B","t":"D","x":1e-11,"y":9.66e-14},{"p":"E","s":"B","t":"D","x":3.16e-11,"y":9.8e-14},{"p":"E","s":"B","t":"D","x":1e-10,"y":9.93e-14},{"p":"E","s":"B","t":"D","x":3.16e-10,"y":9.93e-14},{"p":"E","s":"B","t":"D","x":1e-9,"y":9.93e-14},
{"p":"E","s":"P","t":"D","x":1e-14,"y":6.75e-15},{"p":"E","s":"P","t":"D","x":3.16e-14,"y":1.51e-14},{"p":"E","s":"P","t":"D","x":1e-13,"y":2.72e-14},{"p":"E","s":"P","t":"D","x":3.16e-13,"y":4.56e-14},{"p":"E","s":"P","t":"D","x":1e-12,"y":6.59e-14},{"p":"E","s":"P","t":"D","x":3.16e-12,"y":7.86e-14},{"p":"E","s":"P","t":"D","x":1e-11,"y":8.59e-14},{"p":"E","s":"P","t":"D","x":3.16e-11,"y":8.83e-14},{"p":"E","s":"P","t":"D","x":1e-10,"y":9.1e-14},{"p":"E","s":"P","t":"D","x":3.16e-10,"y":9.5e-14},{"p":"E","s":"P","t":"D","x":1e-9,"y":9.93e-14},
{"p":"E","s":"K","t":"D","x":1e-14,"y":2.24e-15},{"p":"E","s":"K","t":"D","x":3.16e-14,"y":5.41e-15},{"p":"E","s":"K","t":"D","x":1e-13,"y":1.13e-14},{"p":"E","s":"K","t":"D","x":3.16e-13,"y":1.89e-14},{"p":"E","s":"K","t":"D","x":1e-12,"y":2.72e-14},{"p":"E","s":"K","t":"D","x":3.16e-12,"y":3.07e-14},{"p":"E","s":"K","t":"D","x":1e-11,"y":3.25e-14},{"p":"E","s":"K","t":"D","x":3.16e-11,"y":3.35e-14},{"p":"E","s":"K","t":"D","x":1e-10,"y":3.4e-14},{"p":"E","s":"K","t":"D","x":3.16e-10,"y":3.5e-14},{"p":"E","s":"K","t":"D","x":1e-9,"y":3.5e-14},
{"p":"E","s":"O","t":"S","x":1e-14,"y":6.41e-16},{"p":"E","s":"O","t":"S","x":3.16e-14,"y":1.67e-15},{"p":"E","s":"O","t":"S","x":1e-13,"y":3.48e-15},{"p":"E","s":"O","t":"S","x":3.16e-13,"y":5.82e-15},{"p":"E","s":"O","t":"S","x":1e-12,"y":8.41e-15},{"p":"E","s":"O","t":"S","x":3.16e-12,"y":1.05e-14},{"p":"E","s":"O","t":"S","x":1e-11,"y":1.13e-14},{"p":"E","s":"O","t":"S","x":3.16e-11,"y":1.16e-14},{"p":"E","s":"O","t":"S","x":1e-10,"y":1.16e-14},{"p":"E","s":"O","t":"S","x":3.16e-10,"y":1.13e-14},{"p":"E","s":"O","t":"S","x":1e-9,"y":1.05e-14},
{"p":"E","s":"B","t":"S","x":1e-14,"y":5.14e-16},{"p":"E","s":"B","t":"S","x":3.16e-14,"y":1.34e-15},{"p":"E","s":"B","t":"S","x":1e-13,"y":2.79e-15},{"p":"E","s":"B","t":"S","x":3.16e-13,"y":5.02e-15},{"p":"E","s":"B","t":"S","x":1e-12,"y":7.59e-15},{"p":"E","s":"B","t":"S","x":3.16e-12,"y":9.74e-15},{"p":"E","s":"B","t":"S","x":1e-11,"y":1.05e-14},{"p":"E","s":"B","t":"S","x":3.16e-11,"y":1.1e-14},{"p":"E","s":"B","t":"S","x":1e-10,"y":1.1e-14},{"p":"E","s":"B","t":"S","x":3.16e-10,"y":1.1e-14},{"p":"E","s":"B","t":"S","x":1e-9,"y":1.08e-14},
{"p":"E","s":"P","t":"S","x":1e-14,"y":4.13e-16},{"p":"E","s":"P","t":"S","x":3.16e-14,"y":8.6e-16},{"p":"E","s":"P","t":"S","x":1e-13,"y":2.08e-15},{"p":"E","s":"P","t":"S","x":3.16e-13,"y":4.03e-15},{"p":"E","s":"P","t":"S","x":1e-12,"y":6.75e-15},{"p":"E","s":"P","t":"S","x":3.16e-12,"y":9.46e-15},{"p":"E","s":"P","t":"S","x":1e-11,"y":1.05e-14},{"p":"E","s":"P","t":"S","x":3.16e-11,"y":1.08e-14},{"p":"E","s":"P","t":"S","x":1e-10,"y":1.1e-14},{"p":"E","s":"P","t":"S","x":3.16e-10,"y":1.13e-14},{"p":"E","s":"P","t":"S","x":1e-9,"y":1.13e-14},
{"p":"E","s":"K","t":"S","x":1e-14,"y":6.28e-17},{"p":"E","s":"K","t":"S","x":3.16e-14,"y":1.84e-16},{"p":"E","s":"K","t":"S","x":1e-13,"y":4.78e-16},{"p":"E","s":"K","t":"S","x":3.16e-13,"y":1.07e-15},{"p":"E","s":"K","t":"S","x":1e-12,"y":1.93e-15},{"p":"E","s":"K","t":"S","x":3.16e-12,"y":2.59e-15},{"p":"E","s":"K","t":"S","x":1e-11,"y":2.87e-15},{"p":"E","s":"K","t":"S","x":3.16e-11,"y":2.87e-15},{"p":"E","s":"K","t":"S","x":1e-10,"y":2.79e-15},{"p":"E","s":"K","t":"S","x":3.16e-10,"y":2.87e-15},{"p":"E","s":"K","t":"S","x":1e-9,"y":3e-15},
{"p":"E","s":"O","t":"T","x":1e-14,"y":4.13e-16},{"p":"E","s":"O","t":"T","x":3.16e-14,"y":5.54e-16},{"p":"E","s":"O","t":"T","x":1e-13,"y":9.27e-16},{"p":"E","s":"O","t":"T","x":3.16e-13,"y":1.67e-15},{"p":"E","s":"O","t":"T","x":1e-12,"y":2.41e-15},{"p":"E","s":"O","t":"T","x":3.16e-12,"y":3.74e-15},{"p":"E","s":"O","t":"T","x":1e-11,"y":4.34e-15},{"p":"E","s":"O","t":"T","x":3.16e-11,"y":4.53e-15},{"p":"E","s":"O","t":"T","x":1e-10,"y":4.47e-15},{"p":"E","s":"O","t":"T","x":3.16e-10,"y":4.34e-15},{"p":"E","s":"O","t":"T","x":1e-9,"y":4.15e-15},
{"p":"E","s":"B","t":"T","x":1e-14,"y":2.47e-16},{"p":"E","s":"B","t":"T","x":3.16e-14,"y":3.84e-16},{"p":"E","s":"B","t":"T","x":1e-13,"y":6.41e-16},{"p":"E","s":"B","t":"T","x":3.16e-13,"y":1.24e-15},{"p":"E","s":"B","t":"T","x":1e-12,"y":2.08e-15},{"p":"E","s":"B","t":"T","x":3.16e-12,"y":3.09e-15},{"p":"E","s":"B","t":"T","x":1e-11,"y":3.92e-15},{"p":"E","s":"B","t":"T","x":3.16e-11,"y":4.03e-15},{"p":"E","s":"B","t":"T","x":1e-10,"y":3.92e-15},{"p":"E","s":"B","t":"T","x":3.16e-10,"y":3.74e-15},{"p":"E","s":"B","t":"T","x":1e-9,"y":3.58e-15},
{"p":"E","s":"P","t":"T","x":1e-14,"y":1.15e-16},{"p":"E","s":"P","t":"T","x":3.16e-14,"y":1.84e-16},{"p":"E","s":"P","t":"T","x":1e-13,"y":4.13e-16},{"p":"E","s":"P","t":"T","x":3.16e-13,"y":8.6e-16},{"p":"E","s":"P","t":"T","x":1e-12,"y":1.72e-15},{"p":"E","s":"P","t":"T","x":3.16e-12,"y":2.59e-15},{"p":"E","s":"P","t":"T","x":1e-11,"y":3.24e-15},{"p":"E","s":"P","t":"T","x":3.16e-11,"y":3.33e-15},{"p":"E","s":"P","t":"T","x":1e-10,"y":3.14e-15},{"p":"E","s":"P","t":"T","x":3.16e-10,"y":2.87e-15},{"p":"E","s":"P","t":"T","x":1e-9,"y":2.79e-15},
{"p":"E","s":"K","t":"T","x":1e-14,"y":1.63e-17},{"p":"E","s":"K","t":"T","x":3.16e-14,"y":2.52e-17},{"p":"E","s":"K","t":"T","x":1e-13,"y":4.9e-17},{"p":"E","s":"K","t":"T","x":3.16e-13,"y":1.1e-16},{"p":"E","s":"K","t":"T","x":1e-12,"y":1.98e-16},{"p":"E","s":"K","t":"T","x":3.16e-12,"y":2.86e-16},{"p":"E","s":"K","t":"T","x":1e-11,"y":3.31e-16},{"p":"E","s":"K","t":"T","x":3.16e-11,"y":3.08e-16},{"p":"E","s":"K","t":"T","x":1e-10,"y":2.65e-16},{"p":"E","s":"K","t":"T","x":3.16e-10,"y":2.54e-16},{"p":"E","s":"K","t":"T","x":1e-9,"y":3.21e-16},

{"p":"F","s":"O","t":"D","x":1e-14,"y":1.89e-14},{"p":"F","s":"O","t":"D","x":3.16e-14,"y":3.94e-14},{"p":"F","s":"O","t":"D","x":1e-13,"y":7.09e-14},{"p":"F","s":"O","t":"D","x":3.16e-13,"y":9.5e-14},{"p":"F","s":"O","t":"D","x":1e-12,"y":1.19e-13},{"p":"F","s":"O","t":"D","x":3.16e-12,"y":1.37e-13},{"p":"F","s":"O","t":"D","x":1e-11,"y":1.55e-13},{"p":"F","s":"O","t":"D","x":3.16e-11,"y":1.76e-13},{"p":"F","s":"O","t":"D","x":1e-10,"y":1.99e-13},{"p":"F","s":"O","t":"D","x":3.16e-10,"y":2.2e-13},{"p":"F","s":"O","t":"D","x":1e-9,"y":2.14e-13},
{"p":"F","s":"B","t":"D","x":1e-14,"y":1.75e-14},{"p":"F","s":"B","t":"D","x":3.16e-14,"y":3.55e-14},{"p":"F","s":"B","t":"D","x":1e-13,"y":6.4e-14},{"p":"F","s":"B","t":"D","x":3.16e-13,"y":8.83e-14},{"p":"F","s":"B","t":"D","x":1e-12,"y":1.1e-13},{"p":"F","s":"B","t":"D","x":3.16e-12,"y":1.28e-13},{"p":"F","s":"B","t":"D","x":1e-11,"y":1.42e-13},{"p":"F","s":"B","t":"D","x":3.16e-11,"y":1.59e-13},{"p":"F","s":"B","t":"D","x":1e-10,"y":1.84e-13},{"p":"F","s":"B","t":"D","x":3.16e-10,"y":2.07e-13},{"p":"F","s":"B","t":"D","x":1e-9,"y":1.99e-13},
{"p":"F","s":"P","t":"D","x":1e-14,"y":1.41e-14},{"p":"F","s":"P","t":"D","x":3.16e-14,"y":2.72e-14},{"p":"F","s":"P","t":"D","x":1e-13,"y":5.06e-14},{"p":"F","s":"P","t":"D","x":3.16e-13,"y":7.41e-14},{"p":"F","s":"P","t":"D","x":1e-12,"y":9.5e-14},{"p":"F","s":"P","t":"D","x":3.16e-12,"y":1.1e-13},{"p":"F","s":"P","t":"D","x":1e-11,"y":1.28e-13},{"p":"F","s":"P","t":"D","x":3.16e-11,"y":1.42e-13},{"p":"F","s":"P","t":"D","x":1e-10,"y":1.59e-13},{"p":"F","s":"P","t":"D","x":3.16e-10,"y":1.79e-13},{"p":"F","s":"P","t":"D","x":1e-9,"y":1.71e-13},
{"p":"F","s":"K","t":"D","x":1e-14,"y":4.53e-15},{"p":"F","s":"K","t":"D","x":3.16e-14,"y":1.05e-14},{"p":"F","s":"K","t":"D","x":1e-13,"y":1.97e-14},{"p":"F","s":"K","t":"D","x":3.16e-13,"y":2.93e-14},{"p":"F","s":"K","t":"D","x":1e-12,"y":3.94e-14},{"p":"F","s":"K","t":"D","x":3.16e-12,"y":4.37e-14},{"p":"F","s":"K","t":"D","x":1e-11,"y":4.91e-14},{"p":"F","s":"K","t":"D","x":3.16e-11,"y":5.28e-14},{"p":"F","s":"K","t":"D","x":1e-10,"y":5.52e-14},{"p":"F","s":"K","t":"D","x":3.16e-10,"y":5.52e-14},{"p":"F","s":"K","t":"D","x":1e-9,"y":5.06e-14},
{"p":"F","s":"O","t":"S","x":1e-14,"y":3.58e-15},{"p":"F","s":"O","t":"S","x":3.16e-14,"y":7.26e-15},{"p":"F","s":"O","t":"S","x":1e-13,"y":1.16e-14},{"p":"F","s":"O","t":"S","x":3.16e-13,"y":1.63e-14},{"p":"F","s":"O","t":"S","x":1e-12,"y":2.09e-14},{"p":"F","s":"O","t":"S","x":3.16e-12,"y":2.42e-14},{"p":"F","s":"O","t":"S","x":1e-11,"y":2.81e-14},{"p":"F","s":"O","t":"S","x":3.16e-11,"y":3.25e-14},{"p":"F","s":"O","t":"S","x":1e-10,"y":4.24e-14},{"p":"F","s":"O","t":"S","x":3.16e-10,"y":5.52e-14},{"p":"F","s":"O","t":"S","x":1e-9,"y":6.12e-14},
{"p":"F","s":"B","t":"S","x":1e-14,"y":2.41e-15},{"p":"F","s":"B","t":"S","x":3.16e-14,"y":5.02e-15},{"p":"F","s":"B","t":"S","x":1e-13,"y":8.17e-15},{"p":"F","s":"B","t":"S","x":3.16e-13,"y":1.21e-14},{"p":"F","s":"B","t":"S","x":1e-12,"y":1.63e-14},{"p":"F","s":"B","t":"S","x":3.16e-12,"y":1.94e-14},{"p":"F","s":"B","t":"S","x":1e-11,"y":2.19e-14},{"p":"F","s":"B","t":"S","x":3.16e-11,"y":2.42e-14},{"p":"F","s":"B","t":"S","x":1e-10,"y":2.93e-14},{"p":"F","s":"B","t":"S","x":3.16e-10,"y":3.66e-14},{"p":"F","s":"B","t":"S","x":1e-9,"y":3.94e-14},
{"p":"F","s":"P","t":"S","x":1e-14,"y":1.72e-15},{"p":"F","s":"P","t":"S","x":3.16e-14,"y":3.74e-15},{"p":"F","s":"P","t":"S","x":1e-13,"y":6.75e-15},{"p":"F","s":"P","t":"S","x":3.16e-13,"y":1.13e-14},{"p":"F","s":"P","t":"S","x":1e-12,"y":1.56e-14},{"p":"F","s":"P","t":"S","x":3.16e-12,"y":1.81e-14},{"p":"F","s":"P","t":"S","x":1e-11,"y":1.94e-14},{"p":"F","s":"P","t":"S","x":3.16e-11,"y":2.09e-14},{"p":"F","s":"P","t":"S","x":1e-10,"y":2.35e-14},{"p":"F","s":"P","t":"S","x":3.16e-10,"y":2.72e-14},{"p":"F","s":"P","t":"S","x":1e-9,"y":2.93e-14},
{"p":"F","s":"K","t":"S","x":1e-14,"y":3.84e-16},{"p":"F","s":"K","t":"S","x":3.16e-14,"y":8e-16},{"p":"F","s":"K","t":"S","x":1e-13,"y":1.88e-15},{"p":"F","s":"K","t":"S","x":3.16e-13,"y":3.38e-15},{"p":"F","s":"K","t":"S","x":1e-12,"y":4.53e-15},{"p":"F","s":"K","t":"S","x":3.16e-12,"y":5.02e-15},{"p":"F","s":"K","t":"S","x":1e-11,"y":5.18e-15},{"p":"F","s":"K","t":"S","x":3.16e-11,"y":5.02e-15},{"p":"F","s":"K","t":"S","x":1e-10,"y":5.02e-15},{"p":"F","s":"K","t":"S","x":3.16e-10,"y":5.57e-15},{"p":"F","s":"K","t":"S","x":1e-9,"y":6.08e-15},
{"p":"F","s":"O","t":"T","x":1e-14,"y":9.55e-16},{"p":"F","s":"O","t":"T","x":3.16e-14,"y":1.34e-15},{"p":"F","s":"O","t":"T","x":1e-13,"y":1.93e-15},{"p":"F","s":"O","t":"T","x":3.16e-13,"y":2.53e-15},{"p":"F","s":"O","t":"T","x":1e-12,"y":2.79e-15},{"p":"F","s":"O","t":"T","x":3.16e-12,"y":2.87e-15},{"p":"F","s":"O","t":"T","x":1e-11,"y":2.87e-15},{"p":"F","s":"O","t":"T","x":3.16e-11,"y":2.79e-15},{"p":"F","s":"O","t":"T","x":1e-10,"y":2.87e-15},{"p":"F","s":"O","t":"T","x":3.16e-10,"y":3.09e-15},{"p":"F","s":"O","t":"T","x":1e-9,"y":3.33e-15},
{"p":"F","s":"B","t":"T","x":1e-14,"y":7.11e-16},{"p":"F","s":"B","t":"T","x":3.16e-14,"y":1.04e-15},{"p":"F","s":"B","t":"T","x":1e-13,"y":1.55e-15},{"p":"F","s":"B","t":"T","x":3.16e-13,"y":2.24e-15},{"p":"F","s":"B","t":"T","x":1e-12,"y":2.67e-15},{"p":"F","s":"B","t":"T","x":3.16e-12,"y":2.87e-15},{"p":"F","s":"B","t":"T","x":1e-11,"y":2.87e-15},{"p":"F","s":"B","t":"T","x":3.16e-11,"y":2.67e-15},{"p":"F","s":"B","t":"T","x":1e-10,"y":2.52e-15},{"p":"F","s":"B","t":"T","x":3.16e-10,"y":2.41e-15},{"p":"F","s":"B","t":"T","x":1e-9,"y":2.41e-15},
{"p":"F","s":"P","t":"T","x":1e-14,"y":3.08e-16},{"p":"F","s":"P","t":"T","x":3.16e-14,"y":5.14e-16},{"p":"F","s":"P","t":"T","x":1e-13,"y":1e-15},{"p":"F","s":"P","t":"T","x":3.16e-13,"y":1.99e-15},{"p":"F","s":"P","t":"T","x":1e-12,"y":3e-15},{"p":"F","s":"P","t":"T","x":3.16e-12,"y":3.74e-15},{"p":"F","s":"P","t":"T","x":1e-11,"y":3.92e-15},{"p":"F","s":"P","t":"T","x":3.16e-11,"y":3.74e-15},{"p":"F","s":"P","t":"T","x":1e-10,"y":3.38e-15},{"p":"F","s":"P","t":"T","x":3.16e-10,"y":3.09e-15},{"p":"F","s":"P","t":"T","x":1e-9,"y":3e-15},
{"p":"F","s":"K","t":"T","x":1e-14,"y":3.24e-17},{"p":"F","s":"K","t":"T","x":3.16e-14,"y":6.1e-17},{"p":"F","s":"K","t":"T","x":1e-13,"y":1.47e-16},{"p":"F","s":"K","t":"T","x":3.16e-13,"y":2.86e-16},{"p":"F","s":"K","t":"T","x":1e-12,"y":5e-16},{"p":"F","s":"K","t":"T","x":3.16e-12,"y":6.7e-16},{"p":"F","s":"K","t":"T","x":1e-11,"y":7.21e-16},{"p":"F","s":"K","t":"T","x":3.16e-11,"y":6.41e-16},{"p":"F","s":"K","t":"T","x":1e-10,"y":5.54e-16},{"p":"F","s":"K","t":"T","x":3.16e-10,"y":5.14e-16},{"p":"F","s":"K","t":"T","x":1e-9,"y":5.96e-16}
]},
"transform": [
  {"lookup": "p", "from": {"data": {"values": [
    {"p": "A", "row": "1", "col": "1"}, {"p": "B", "row": "1", "col": "2"},
    {"p": "C", "row": "2", "col": "1"}, {"p": "D", "row": "2", "col": "2"},
    {"p": "E", "row": "3", "col": "1"}, {"p": "F", "row": "3", "col": "2"}]}, "key": "p", "fields": ["row", "col"]}}
],
"facet": {
  "row": {"field": "row", "type": "ordinal", "header": {"labels": false, "title": null}},
  "column": {"field": "col", "type": "ordinal", "header": {"labels": false, "title": null}}
},
"spacing": {"row": 20, "column": 19},
"resolve": {"axis": {"x": "independent", "y": "independent"}},
"spec": {
  "width": 270,
  "height": 261,
  "layer": [
    {"transform": [{"filter": "datum.p == 'A' && isValid(datum.a)"}],
     "mark": {"type": "rule", "strokeWidth": 11, "color": "#999", "opacity": 0.5, "strokeCap": "butt"},
     "encoding": {"x": {"datum": 1.97e-13, "type": "quantitative"}, "y": {"datum": 4.85e-14, "type": "quantitative"}, "x2": {"datum": 4.99e-11}, "y2": {"datum": 2.57e-16}}},
    {"transform": [{"filter": "datum.p == 'A' && isValid(datum.a)"}],
     "mark": {"type": "point", "shape": "M0,-1L1,0L-1,0Z", "size": 1936, "angle": -45, "filled": true, "color": "#999", "opacity": 0.5, "strokeWidth": 0},
     "encoding": {"x": {"datum": 1.97e-13, "type": "quantitative"}, "y": {"datum": 4.85e-14, "type": "quantitative"}}},
    {"transform": [{"filter": "datum.p == 'A' && isValid(datum.a)"}],
     "mark": {"type": "point", "shape": "M0,-1L1,0L-1,0Z", "size": 1936, "angle": 135, "filled": true, "color": "#999", "opacity": 0.5, "strokeWidth": 0},
     "encoding": {"x": {"datum": 4.99e-11, "type": "quantitative"}, "y": {"datum": 2.57e-16, "type": "quantitative"}}},
    {"transform": [{"filter": "isValid(datum.t)"}],
     "mark": {"type": "line", "clip": true, "strokeWidth": 1.6, "interpolate": "monotone"},
     "encoding": {
       "x": {"field": "x", "type": "quantitative", "scale": {"type": "log", "domain": [1e-14, 1e-9]},
             "axis": {"values": [1e-14, 1e-13, 1e-12, 1e-11, 1e-10, 1e-9], "format": ".0e", "title": "fault permeability [m²]", "tickSize": 5, "labelPadding": 4, "titlePadding": 10, "grid": true}},
       "y": {"field": "y", "type": "quantitative", "scale": {"type": "log", "domain": [1e-17, 1e-12]},
             "axis": {"values": [1e-17, 1e-16, 1e-15, 1e-14, 1e-13, 1e-12], "format": ".0e", "title": "matrix permeability [m²]", "tickSize": 5, "labelPadding": 2, "titlePadding": 4, "titleFontSize": 9.5, "grid": true}},
       "color": {"field": "s", "type": "nominal",
                 "scale": {"domain": ["O", "B", "P", "K"], "range": ["#ff8c00", "#1e8cff", "#9b30ff", "#000000"]},
                 "legend": {"orient": "none", "legendX": 221, "legendY": -154, "title": ["spec. fault", "storage [1/Pa]"], "titleFontSize": 10, "titleFontWeight": "normal", "titleColor": "#222", "titlePadding": 3,
                            "labelExpr": "datum.label == 'O' ? '1.6e-10' : datum.label == 'B' ? '1.12e-10' : datum.label == 'P' ? '5.2e-11' : '2e-12'",
                            "labelFontSize": 9, "labelColor": "#222", "labelOffset": 1, "rowPadding": 0, "clipHeight": 18.5,
                            "symbolType": "M-0.94,-1.08H0.94V1.08H-0.94Z", "symbolSize": 289, "symbolStrokeWidth": 1,
                            "encode": {"symbols": {"update": {"fill": {"scale": "color", "field": "value"}, "stroke": {"value": "#666"}, "strokeWidth": {"value": 1}, "opacity": {"value": 1}}}}}},
       "strokeDash": {"field": "t", "type": "nominal",
                      "scale": {"domain": ["D", "S", "T"], "range": [[7, 4], [1, 0], [2, 2]]},
                      "legend": {"orient": "none", "legendX": 0, "legendY": -128, "title": null, "strokeColor": "#222", "padding": 5,
                                 "labelExpr": "datum.label == 'D' ? 'radial to bilinear' : datum.label == 'S' ? 'bilinear to linear' : 'linear to neg. boundary'",
                                 "labelFontSize": 10, "labelColor": "#222", "labelOffset": 1, "rowPadding": 10,
                                 "symbolType": "stroke", "symbolSize": 484, "symbolStrokeWidth": 2, "symbolStrokeColor": "#000"}}
     }},
    {"transform": [{"filter": "isValid(datum.a)"}],
     "mark": {"type": "text", "fontSize": 10.7, "color": "#333", "baseline": "middle"},
     "encoding": {"x": {"datum": 3.16e-12, "type": "quantitative"}, "y": {"datum": 3.7e-13, "type": "quantitative"}, "text": {"field": "a"}}},
    {"transform": [{"filter": "isValid(datum.a) && datum.p != 'E' && datum.p != 'F'"}],
     "mark": {"type": "text", "fontSize": 10.7, "color": "#333", "baseline": "middle", "align": "right", "fontWeight": "bold"},
     "encoding": {"x": {"datum": 2.35e-13, "type": "quantitative"}, "y": {"datum": 1.96e-13, "type": "quantitative"}, "text": {"field": "b"}}},
    {"transform": [{"filter": "isValid(datum.a) && datum.p != 'E' && datum.p != 'F'"}],
     "mark": {"type": "text", "fontSize": 10.7, "color": "#333", "baseline": "middle", "align": "left", "dx": 6.44},
     "encoding": {"x": {"datum": 2.35e-13, "type": "quantitative"}, "y": {"datum": 1.96e-13, "type": "quantitative"}, "text": {"field": "n"}}},
    {"transform": [{"filter": "isValid(datum.a) && (datum.p == 'E' || datum.p == 'F')"}],
     "mark": {"type": "text", "fontSize": 10.7, "color": "#333", "baseline": "middle", "align": "right", "fontWeight": "bold"},
     "encoding": {"x": {"datum": 1.8e-13, "type": "quantitative"}, "y": {"datum": 1.96e-13, "type": "quantitative"}, "text": {"field": "b"}}},
    {"transform": [{"filter": "isValid(datum.a) && (datum.p == 'E' || datum.p == 'F')"}],
     "mark": {"type": "text", "fontSize": 10.7, "color": "#333", "baseline": "middle", "align": "left", "dx": 6.44},
     "encoding": {"x": {"datum": 1.8e-13, "type": "quantitative"}, "y": {"datum": 1.96e-13, "type": "quantitative"}, "text": {"field": "n"}}},
    {"transform": [{"filter": "isValid(datum.w)"}],
     "mark": {"type": "text", "fontSize": 14, "color": "#666", "align": "left", "baseline": "middle"},
     "encoding": {"x": {"field": "x", "type": "quantitative"}, "y": {"field": "y", "type": "quantitative"}, "text": {"field": "w"}}},
    {"transform": [{"filter": "datum.p == 'A' && isValid(datum.a)"}],
     "mark": {"type": "text", "fontSize": 13, "fontWeight": "bold", "color": "#222", "baseline": "middle"},
     "encoding": {"x": {"datum": 3.8e-12, "type": "quantitative"}, "y": {"datum": 2.63e-12, "type": "quantitative"}, "text": {"field": "a"}}},
    {"transform": [{"filter": "datum.p == 'B' && isValid(datum.a)"}],
     "mark": {"type": "text", "fontSize": 13, "fontWeight": "bold", "color": "#222", "baseline": "middle"},
     "encoding": {"x": {"datum": 2.07e-13, "type": "quantitative"}, "y": {"datum": 2.63e-12, "type": "quantitative"}, "text": {"field": "a"}}},
    {"transform": [{"filter": "datum.p == 'A' && isValid(datum.a)"}],
     "mark": {"type": "text", "fontSize": 10, "color": "#222", "align": "left", "baseline": "middle"},
     "encoding": {"x": {"datum": 1.15e-14, "type": "quantitative"}, "y": {"datum": 5e-10, "type": "quantitative"}, "text": {"value": "flow regime transitions"}}}
  ]
}
}
